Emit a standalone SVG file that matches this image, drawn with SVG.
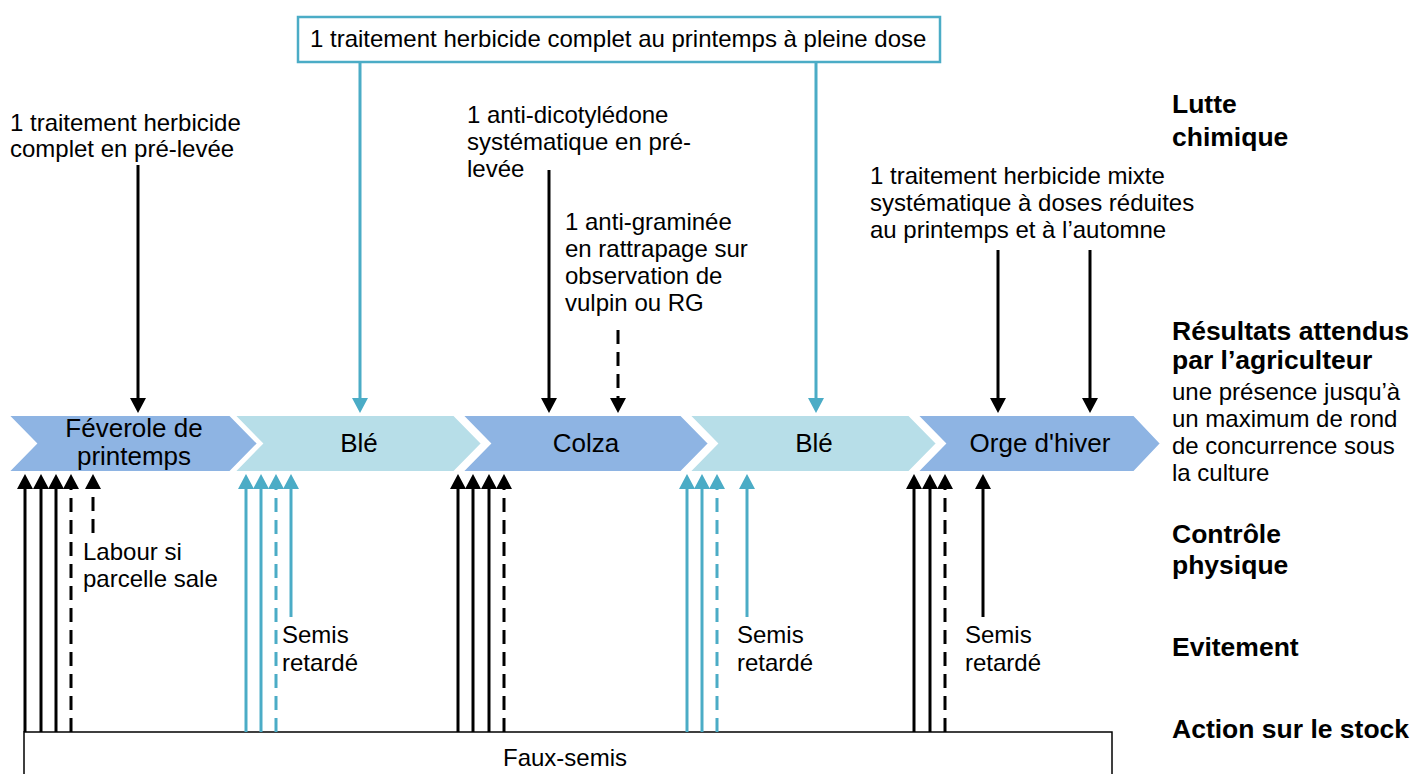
<svg xmlns="http://www.w3.org/2000/svg" width="1426" height="774" viewBox="0 0 1426 774">
<style>
text{font-family:"Liberation Sans",Arial,sans-serif;fill:#000}
.t{font-size:24px}
.b{font-size:26.5px;font-weight:bold}
.c{font-size:26px;text-anchor:middle}
.chevA{fill:#8EB4E3;stroke:#fff;stroke-width:2}
.chevB{fill:#B7DEE8;stroke:#fff;stroke-width:2}
.k{stroke:#000;stroke-width:3;fill:none}
.u{stroke:#4BACC6;stroke-width:3;fill:none}
.d{stroke-dasharray:14 8}
.ka{marker-end:url(#mk)}
.ua{marker-end:url(#mu)}
</style>
<defs>
<marker id="mk" viewBox="0 0 15 16" refX="0" refY="8" markerWidth="15" markerHeight="16" markerUnits="userSpaceOnUse" orient="auto"><path d="M0,0 L15,8 L0,16 Z" fill="#000"/></marker>
<marker id="mu" viewBox="0 0 15 16" refX="0" refY="8" markerWidth="15" markerHeight="16" markerUnits="userSpaceOnUse" orient="auto"><path d="M0,0 L15,8 L0,16 Z" fill="#4BACC6"/></marker>
</defs>
<rect width="1426" height="774" fill="#fff"/>

<g id="chevrons">
<g id="n-feverole"><polygon class="chevA" points="8,415 230,415 258,443.5 230,472 8,472 36,443.5"/><text class="c" x="134" y="437">Féverole de</text><text class="c" x="134" y="465">printemps</text></g>
<g id="n-ble1"><polygon class="chevB" points="234,415 454,415 482,443.5 454,472 234,472 262,443.5"/><text class="c" x="359" y="452">Blé</text></g>
<g id="n-colza"><polygon class="chevA" points="462,415 681,415 709,443.5 681,472 462,472 490,443.5"/><text class="c" x="586" y="452">Colza</text></g>
<g id="n-ble2"><polygon class="chevB" points="689,415 909,415 937,443.5 909,472 689,472 717,443.5"/><text class="c" x="814" y="452">Blé</text></g>
<g id="n-orge"><polygon class="chevA" points="917,415 1134,415 1161,443.5 1134,472 917,472 945,443.5"/><text class="c" x="1040" y="452">Orge d'hiver</text></g>
</g>

<g id="n-box-top"><rect x="298" y="17" width="642" height="45" fill="#fff" stroke="#4BACC6" stroke-width="2.5"/><text class="t" x="310" y="47">1 traitement herbicide complet au printemps à pleine dose</text></g>

<g id="n-pre-levee"><text class="t" x="10" y="131">1 traitement herbicide</text><text class="t" x="10" y="157">complet en pré-levée</text></g>
<g id="n-anti-dico"><text class="t" x="467" y="123">1 anti-dicotylédone</text><text class="t" x="467" y="150">systématique en pré-</text><text class="t" x="467" y="177">levée</text></g>
<g id="n-anti-gram"><text class="t" x="565" y="230">1 anti-graminée</text><text class="t" x="565" y="257">en rattrapage sur</text><text class="t" x="565" y="284">observation de</text><text class="t" x="565" y="311">vulpin ou RG</text></g>
<g id="n-mixte"><text class="t" x="870" y="184">1 traitement herbicide mixte</text><text class="t" x="870" y="211">systématique à doses réduites</text><text class="t" x="870" y="238">au printemps et à l’automne</text></g>

<g id="n-labels">
<text class="b" x="1172" y="113">Lutte</text><text class="b" x="1172" y="146">chimique</text>
<text class="b" x="1172" y="340">Résultats attendus</text><text class="b" x="1172" y="369">par l’agriculteur</text>
<text class="t" x="1172" y="400">une présence jusqu’à</text><text class="t" x="1172" y="427">un maximum de rond</text><text class="t" x="1172" y="454">de concurrence sous</text><text class="t" x="1172" y="481">la culture</text>
<text class="b" x="1172" y="543">Contrôle</text><text class="b" x="1172" y="574">physique</text>
<text class="b" x="1172" y="656">Evitement</text>
<text class="b" x="1172" y="738">Action sur le stock</text>
</g>

<g id="n-labour"><text class="t" x="83" y="560">Labour si</text><text class="t" x="83" y="587">parcelle sale</text></g>
<g id="n-semis1"><text class="t" x="282" y="643">Semis</text><text class="t" x="282" y="671">retardé</text></g>
<g id="n-semis2"><text class="t" x="737" y="643">Semis</text><text class="t" x="737" y="671">retardé</text></g>
<g id="n-semis3"><text class="t" x="965" y="643">Semis</text><text class="t" x="965" y="671">retardé</text></g>

<g id="n-faux-semis"><rect x="24" y="732" width="1088" height="60" fill="#fff" stroke="#000" stroke-width="1.5"/><text class="t" x="503" y="766">Faux-semis</text></g>

<g id="connectors">
<path class="k ka" d="M138,165 V398"/>
<path class="u ua" d="M360,62 V398"/>
<path class="k ka" d="M549,170 V398"/>
<path class="k ka d" d="M618,330 V398"/>
<path class="u ua" d="M816,62 V398"/>
<path class="k ka" d="M998,250 V398"/>
<path class="k ka" d="M1090,250 V398"/>
<path class="k ka" d="M25,732 V489"/>
<path class="k ka" d="M41,732 V489"/>
<path class="k ka" d="M56,732 V489"/>
<path class="k ka d" d="M71,732 V489"/>
<path class="k ka d" d="M93,533 V489"/>
<path class="u ua" d="M246,732 V489"/>
<path class="u ua" d="M261,732 V489"/>
<path class="u ua d" d="M276,732 V489"/>
<path class="u ua" d="M291,617 V489"/>
<path class="k ka" d="M458,732 V489"/>
<path class="k ka" d="M473,732 V489"/>
<path class="k ka" d="M489,732 V489"/>
<path class="k ka d" d="M504,732 V489"/>
<path class="u ua" d="M687,732 V489"/>
<path class="u ua" d="M702,732 V489"/>
<path class="u ua d" d="M717,732 V489"/>
<path class="u ua" d="M747,617 V489"/>
<path class="k ka" d="M914,732 V489"/>
<path class="k ka" d="M930,732 V489"/>
<path class="k ka d" d="M945,732 V489"/>
<path class="k ka" d="M983,617 V489"/>
</g>
</svg>
